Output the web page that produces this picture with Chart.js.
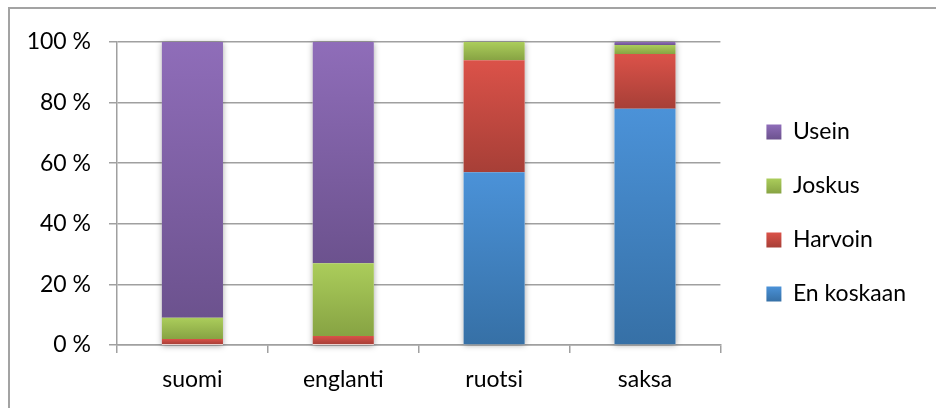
<!DOCTYPE html>
<html>
<head>
<meta charset="utf-8">
<script src="https://cdn.jsdelivr.net/npm/chart.js@4/dist/chart.umd.min.js"></script>
<style>
  html, body { margin: 0; padding: 0; background: #fff; }
  #wrap { position: relative; width: 936px; height: 408px; overflow: hidden; }
  #frame { position: absolute; left: 8px; top: 7px; width: 1000px; height: 500px; border-left: 2px solid #a3a3a3; border-top: 2px solid #a3a3a3; }
  #chart { position: absolute; left: 0; top: 0; }
</style>
</head>
<body>
<div id="wrap">
  <div id="frame"></div>
  <canvas id="chart" width="936" height="408"></canvas>
</div>
<script>
// Survey answers per language, share of respondents (%)
const categories = ['suomi', 'englanti', 'ruotsi', 'saksa'];
const enKoskaan = [0, 0, 57, 78];
const harvoin = [2, 3, 37, 18];
const joskus = [7, 24, 6, 3];
const usein = [91, 73, 0, 1];
const yTickStep = 20;
const tickSuffix = ' %';

// top / bottom colour of each series gradient
const shades = {
    'En koskaan': ['#4b92d8', '#3670a6'],
    'Harvoin': ['#db5249', '#a73f37'],
    'Joskus': ['#abcd5b', '#87a343'],
    'Usein': ['#8f6db9', '#6c528e']
};

const gridGray = '#a0a0a0';

function vGradient(ctx, top, bottom, pair) {
    const g = ctx.createLinearGradient(0, top, 0, bottom);
    g.addColorStop(0, pair[0]);
    g.addColorStop(1, pair[1]);
    return g;
}

// soft shadow behind each whole stacked column, then gradient fills per segment
const barStyle = {
    id: 'barStyle',
    afterLayout(chart) {
        // move the legend block a bit right and up from where the layout puts it
        const lg = chart.legend;
        lg.left += 15; lg.right += 15;
        lg.top -= 12; lg.bottom -= 12;
    },
    beforeDatasetsDraw(chart) {
        const ctx = chart.ctx;
        const metas = chart.getSortedVisibleDatasetMetas();
        categories.forEach((c, i) => {
            let top = Infinity, bottom = -Infinity, x = 0, w = 0;
            metas.forEach(m => {
                const el = m.data[i];
                top = Math.min(top, el.y, el.base);
                bottom = Math.max(bottom, el.y, el.base);
                x = el.x; w = el.width;
            });
            ctx.save();
            ctx.shadowColor = 'rgba(0,0,0,0.35)';
            ctx.shadowBlur = 6;
            ctx.shadowOffsetY = 1;
            ctx.fillStyle = '#fff';
            ctx.fillRect(x - w / 2, top, w, bottom - top);
            ctx.restore();
        });
        metas.forEach(m => {
            const pair = shades[chart.data.datasets[m.index].label];
            m.data.forEach(el => {
                const g = vGradient(ctx, Math.min(el.y, el.base), Math.max(el.y, el.base), pair);
                el.options = Object.assign({}, el.options, { backgroundColor: g });
            });
        });
    },
    beforeDraw(chart) {
        const lg = chart.legend;
        if (!lg || !lg.legendHitBoxes) return;
        lg.legendItems.forEach((item, i) => {
            const hb = lg.legendHitBoxes[i];
            const top = hb.top + (hb.height - 15) / 2;
            item.fillStyle = vGradient(chart.ctx, top, top + 15, shades[item.text]);
        });
    }
};

Chart.defaults.font.family = 'Lato, "Open Sans", sans-serif';
Chart.defaults.font.size = 23;
Chart.defaults.color = '#000';

new Chart(document.getElementById('chart'), {
    type: 'bar',
    data: {
        labels: categories,
        datasets: [
            { label: 'En koskaan', data: enKoskaan, backgroundColor: shades['En koskaan'][0] },
            { label: 'Harvoin', data: harvoin, backgroundColor: shades['Harvoin'][0] },
            { label: 'Joskus', data: joskus, backgroundColor: shades['Joskus'][0] },
            { label: 'Usein', data: usein, backgroundColor: shades['Usein'][0] }
        ]
    },
    options: {
        responsive: false,
        animation: false,
        devicePixelRatio: 1,
        layout: { padding: { top: 42, left: 0, right: 35, bottom: 0 } },
        datasets: {
            bar: { categoryPercentage: 1, barPercentage: 0.405, borderWidth: 0 }
        },
        scales: {
            x: {
                stacked: true,
                afterFit: s => { s.height = 63; },
                grid: { drawOnChartArea: false, drawTicks: true, tickLength: 8, color: gridGray, lineWidth: 1.5 },
                border: { color: gridGray, width: 1.5 },
                ticks: { padding: 13, color: '#000' }
            },
            y: {
                stacked: true,
                min: 0,
                max: 100,
                afterFit: s => { s.width = 117; },
                grid: { color: gridGray, lineWidth: 1.5, tickLength: 8 },
                border: { color: gridGray, width: 1.5 },
                ticks: {
                    stepSize: yTickStep,
                    padding: 18,
                    color: '#000',
                    callback: v => v + tickSuffix
                }
            }
        },
        plugins: {
            legend: {
                position: 'right',
                reverse: true,
                labels: { boxWidth: 15, boxHeight: 15, padding: 31, color: '#000', font: { size: 23 } }
            },
            tooltip: { enabled: false }
        }
    },
    plugins: [barStyle]
});
</script>
</body>
</html>
